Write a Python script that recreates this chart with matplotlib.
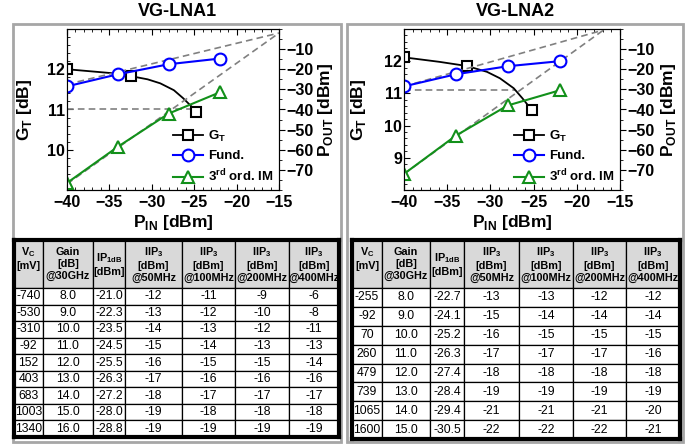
import matplotlib
matplotlib.use("Agg")
import matplotlib.pyplot as plt
from matplotlib.lines import Line2D
from matplotlib.patches import Rectangle
from matplotlib.ticker import MultipleLocator

plt.rcParams['font.family'] = 'Liberation Sans'
plt.rcParams['font.weight'] = 'bold'
plt.rcParams['axes.labelweight'] = 'bold'

# ---- VG-LNA1 curves ----
lna1_gt_x = [-40, -34, -32.5, -30.5, -29, -27.4, -26.3, -25.2, -24.8]
lna1_gt_y = [12.0, 11.89, 11.83, 11.75, 11.65, 11.48, 11.28, 11.05, 10.95]
lna1_gt_marks = [0, 2, 8]
lna1_pin = [-40, -34, -28, -22]
lna1_fund = [-28.5, -22.5, -17.5, -14.7]
lna1_im3 = [-76.5, -58.5, -42, -31.5]
lna1_fund_ext = ([-40, -15], [-27.5, -2])
lna1_im3_ext = ([-40, -15], [-77, -2])
lna1_p1db = ([-40, -25.3], [11.0, 11.0])

# ---- VG-LNA2 curves ----
lna2_gt_x = [-40, -35.9, -32.7, -30.4, -28.9, -27.3, -26.3, -25.2]
lna2_gt_y = [12.12, 11.98, 11.85, 11.67, 11.47, 11.16, 10.85, 10.48]
lna2_gt_marks = [0, 2, 7]
lna2_pin = [-40, -34, -28, -22]
lna2_fund = [-28.5, -22.5, -18.5, -16.0]
lna2_im3 = [-72, -53, -38, -30.5]
lna2_fund_ext = ([-40, -16.9], [-28.5, -0.5])
lna2_im3_ext = ([-40, -16.9], [-72, -0.5])
lna2_p1db = ([-40, -27.1], [11.1, 11.1])

# ---- tables ----
header = ['V$_\\mathregular{C}$\n[mV]\n ', 'Gain\n[dB]\n@30GHz', 'IP$_\\mathregular{1dB}$\n[dBm]',
          'IIP$_\\mathregular{3}$\n[dBm]\n@50MHz', 'IIP$_\\mathregular{3}$\n[dBm]\n@100MHz',
          'IIP$_\\mathregular{3}$\n[dBm]\n@200MHz', 'IIP$_\\mathregular{3}$\n[dBm]\n@400MHz']

lna1_vc = [-740, -530, -310, -92, 152, 403, 683, 1003, 1340]
lna1_gain = [8.0, 9.0, 10.0, 11.0, 12.0, 13.0, 14.0, 15.0, 16.0]
lna1_ip1db = [-21.0, -22.3, -23.5, -24.5, -25.5, -26.3, -27.2, -28.0, -28.8]
lna1_iip3_50 = [-12, -13, -14, -15, -16, -17, -18, -19, -19]
lna1_iip3_100 = [-11, -12, -13, -14, -15, -16, -17, -18, -19]
lna1_iip3_200 = [-9, -10, -12, -13, -15, -16, -17, -18, -19]
lna1_iip3_400 = [-6, -8, -11, -13, -14, -16, -17, -18, -19]

lna2_vc = [-255, -92, 70, 260, 479, 739, 1065, 1600]
lna2_gain = [8.0, 9.0, 10.0, 11.0, 12.0, 13.0, 14.0, 15.0]
lna2_ip1db = [-22.7, -24.1, -25.2, -26.3, -27.4, -28.4, -29.4, -30.5]
lna2_iip3_50 = [-13, -15, -16, -17, -18, -19, -21, -22]
lna2_iip3_100 = [-13, -14, -15, -17, -18, -19, -21, -22]
lna2_iip3_200 = [-12, -14, -15, -17, -18, -19, -21, -22]
lna2_iip3_400 = [-12, -14, -15, -16, -18, -19, -20, -21]

W, H = 691, 445
fig = plt.figure(figsize=(W / 100, H / 100), dpi=100)


def box(l, t, r, b):
    return [l / W, 1 - b / H, (r - l) / W, (b - t) / H]


# gray panel frames
bg = fig.add_axes([0, 0, 1, 1], zorder=-1)
bg.set_xlim(0, W)
bg.set_ylim(H, 0)
bg.axis('off')
for l, t, r, b in [(13, 24, 341, 442), (347, 24, 683, 442)]:
    bg.add_patch(Rectangle((l, t), r - l, b - t, fill=False, ec='#a6a6a6', lw=2))

green = '#12901a'


def draw_chart(rect, title_x, title, gt_x, gt_y, gt_marks, pin, fund, im3,
               fund_ext, im3_ext, p1db, gt_lim, gt_ticks, lab_l, lab_r):
    ax = fig.add_axes(box(*rect))
    ax.set_xlim(-40, -15)
    ax.set_ylim(*gt_lim)
    ax.set_xticks([-40, -35, -30, -25, -20, -15])
    ax.set_yticks(gt_ticks)
    ax.xaxis.set_minor_locator(MultipleLocator(1))
    ax.yaxis.set_minor_locator(MultipleLocator(0.2))
    ax.tick_params(which='both', direction='in', top=True, labelsize=11.5)
    ax.tick_params(axis='y', pad=1.5)
    ax.tick_params(which='major', length=4)
    ax.tick_params(which='minor', length=2)
    ax.plot(*p1db, color='gray', ls=(0, (4, 2.5)), lw=1.2)
    ax.plot(gt_x, gt_y, color='black', lw=1.3, marker='s', markevery=gt_marks,
            ms=7.5, mfc='white', mec='black', mew=1.5)
    ax.set_xlabel('P$_\\mathregular{IN}$ [dBm]', fontsize=12.5)
    ax.xaxis.set_label_coords(0.5, -0.145)
    ax.set_ylabel('G$_\\mathregular{T}$ [dB]', fontsize=12.5)
    ax.yaxis.set_label_coords(lab_l, 0.5)

    bx = ax.twinx()
    bx.set_ylim(-80, 0)
    bx.set_yticks([-70, -60, -50, -40, -30, -20, -10])
    bx.yaxis.set_minor_locator(MultipleLocator(5))
    bx.tick_params(which='both', direction='out', labelsize=11.5, pad=1.5)
    bx.tick_params(which='major', length=4)
    bx.tick_params(which='minor', length=2)
    bx.plot(*fund_ext, color='gray', ls=(0, (4, 2.5)), lw=1.2)
    bx.plot(*im3_ext, color='gray', ls=(0, (4, 2.5)), lw=1.2)
    bx.plot(pin, fund, color='blue', lw=1.5, marker='o', ms=8.5, mfc='white', mec='blue', mew=1.5)
    bx.plot(pin, im3, color=green, lw=1.5, marker='^', ms=9, mfc='white', mec=green, mew=1.5)
    bx.set_ylabel('P$_\\mathregular{OUT}$ [dBm]', fontsize=12.5)
    bx.yaxis.set_label_coords(lab_r, 0.5)

    handles = [
        Line2D([], [], color='black', lw=1.3, marker='s', ms=7.5, mfc='white', mew=1.5),
        Line2D([], [], color='blue', lw=1.5, marker='o', ms=8.5, mfc='white', mew=1.5),
        Line2D([], [], color=green, lw=1.5, marker='^', ms=9, mfc='white', mec=green, mew=1.5),
    ]
    labels = ['G$_\\mathregular{T}$', 'Fund.', '3$^\\mathregular{rd}$ ord. IM']
    bx.legend(handles, labels, loc='lower right', frameon=False, fontsize=9.5,
              handlelength=2.3, handletextpad=0.4, labelspacing=0.45,
              borderaxespad=0.1, borderpad=0.3, numpoints=1)
    fig.text(title_x / W, 1 - 12 / H, title, ha='center', va='center', fontsize=13)


def draw_table(rect, cols, col_w, header_h):
    tax = fig.add_axes(box(*rect))
    tax.set_xticks([])
    tax.set_yticks([])
    for s in tax.spines.values():
        s.set_linewidth(3)
        s.set_zorder(5)
    rows = [[str(v) for v in r] for r in zip(*cols)]
    n = len(rows)
    row_h = (rect[3] - rect[1] - header_h) / n
    tb = tax.table(cellText=rows, colLabels=header, colWidths=col_w,
                   cellLoc='center', bbox=[0, 0, 1, 1])
    tb.auto_set_font_size(False)
    for (r, c), cell in tb.get_celld().items():
        cell.set_linewidth(0.9)
        txt = cell.get_text()
        if r == 0:
            cell.set_height(header_h)
            cell.set_facecolor('#d9d9d9')
            txt.set_fontsize(7.8)
            txt.set_fontweight('bold')
            txt.set_linespacing(1.2)
        else:
            cell.set_height(row_h)
            txt.set_fontsize(8.8)
            txt.set_fontweight('normal')


draw_chart((67, 29, 279, 190), 177, 'VG-LNA1', lna1_gt_x, lna1_gt_y, lna1_gt_marks,
           lna1_pin, lna1_fund, lna1_im3, lna1_fund_ext, lna1_im3_ext, lna1_p1db,
           (9, 13), [10, 11, 12], -0.156, 1.175)
draw_chart((404, 29, 620, 190), 515, 'VG-LNA2', lna2_gt_x, lna2_gt_y, lna2_gt_marks,
           lna2_pin, lna2_fund, lna2_im3, lna2_fund_ext, lna2_im3_ext, lna2_p1db,
           (8, 13), [9, 10, 11, 12], -0.167, 1.18)

fmt1 = lambda v: '%.1f' % v
draw_table((14, 240, 339, 437),
           [lna1_vc, [fmt1(v) for v in lna1_gain], [fmt1(v) for v in lna1_ip1db],
            lna1_iip3_50, lna1_iip3_100, lna1_iip3_200, lna1_iip3_400],
           [29, 50, 32, 57, 53, 54, 50], 48)
draw_table((352, 240, 680, 439),
           [lna2_vc, [fmt1(v) for v in lna2_gain], [fmt1(v) for v in lna2_ip1db],
            lna2_iip3_50, lna2_iip3_100, lna2_iip3_200, lna2_iip3_400],
           [30, 48, 34, 55, 54, 53, 54], 48)

fig.savefig('out.png', dpi=100)
